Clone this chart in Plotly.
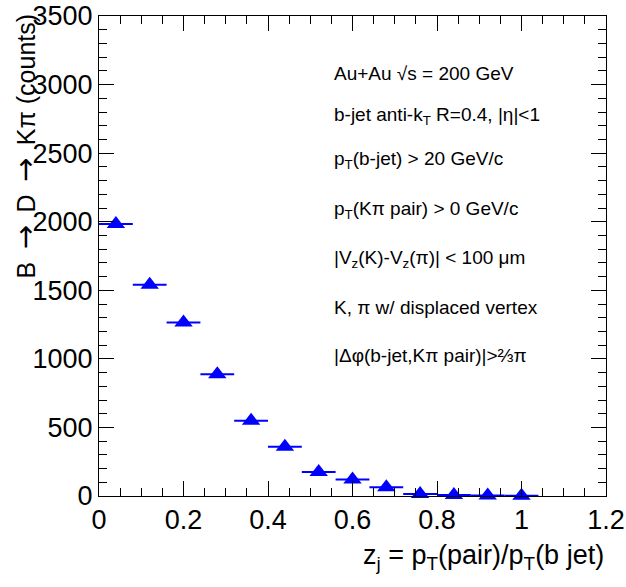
import plotly.graph_objects as go

# Data
zj_centers = [0.04, 0.12, 0.20, 0.28, 0.36, 0.44, 0.52, 0.60, 0.68, 0.76, 0.84, 0.92, 1.00]
zj_halfwidth = [0.04] * 13
counts = [1983, 1540, 1266, 887, 549, 359, 175, 121, 63, 15, 7, 3, 2]

x_ticks = [0, 0.2, 0.4, 0.6, 0.8, 1.0, 1.2]
x_ticklabels = ["0", "0.2", "0.4", "0.6", "0.8", "1", "1.2"]
y_ticks = [0, 500, 1000, 1500, 2000, 2500, 3000, 3500]
y_ticklabels = ["0", "500", "1000", "1500", "2000", "2500", "3000", "3500"]

info_lines = [
    "Au+Au √s = 200 GeV",
    "b-jet anti-k<sub>T</sub> R=0.4, |η|&lt;1",
    "p<sub>T</sub>(b-jet) &gt; 20 GeV/c",
    "p<sub>T</sub>(Kπ pair) &gt; 0 GeV/c",
    "|V<sub>z</sub>(K)-V<sub>z</sub>(π)| &lt; 100 μm",
    "K, π w/ displaced vertex",
    "|Δφ(b-jet,Kπ pair)|&gt;⅔π",
]
info_ypx = [73, 116, 160, 210, 259, 307, 356]

FONT = "Liberation Sans, Arial, Helvetica, sans-serif"
ARROW = "\u2002<span style='font-family:DejaVu Sans;font-size:29px'>→</span>\u2002"

fig = go.Figure()
fig.add_trace(go.Scatter(
    x=zj_centers, y=counts, mode="markers",
    marker=dict(symbol="triangle-up", size=16, color="#0000ff"),
    error_x=dict(type="data", array=zj_halfwidth, visible=True,
                 color="#0000ff", thickness=2, width=0),
    cliponaxis=False, showlegend=False,
))

L, R, T, B = 99, 20, 16, 91
W, H = 626, 587
ph = H - T - B

def py(px):
    return (H - B - px) / ph

for txt, ypx in zip(info_lines, info_ypx):
    fig.add_annotation(text=txt, xref="paper", yref="paper",
                       x=(332 - L) / (W - L - R), y=py(ypx),
                       xanchor="left", yanchor="middle", showarrow=False,
                       font=dict(family=FONT, size=19, color="black"))

# axis titles
fig.add_annotation(text="z<sub>j</sub> = p<sub>T</sub>(pair)/p<sub>T</sub>(b jet)",
                   xref="paper", yref="paper", x=1.0, y=py(557),
                   xanchor="right", yanchor="middle", showarrow=False,
                   font=dict(family=FONT, size=27, color="black"))
fig.add_annotation(text=f"B{ARROW}D{ARROW}Kπ (counts)",
                   xref="paper", yref="paper", x=(24 - L) / (W - L - R), y=py(12),
                   xanchor="center", yanchor="top", showarrow=False, textangle=-90,
                   font=dict(family=FONT, size=25, color="black"))

axis_common = dict(showline=True, linecolor="black", linewidth=1, mirror="allticks",
                   ticks="inside", ticklen=15, tickwidth=1, tickcolor="black",
                   showgrid=False, zeroline=False, automargin=False,
                   tickfont=dict(family=FONT, size=27, color="black"))

fig.update_xaxes(range=[0, 1.2], tickvals=x_ticks, ticktext=x_ticklabels,
                 minor=dict(dtick=0.05, ticks="inside", ticklen=8, tickcolor="black", showgrid=False),
                 **axis_common)
fig.update_yaxes(range=[0, 3500], tickvals=y_ticks, ticktext=y_ticklabels,
                 minor=dict(dtick=100, ticks="inside", ticklen=8, tickcolor="black", showgrid=False),
                 **axis_common)

fig.update_layout(width=W, height=H, margin=dict(l=L, r=R, t=T, b=B),
                  plot_bgcolor="white", paper_bgcolor="white",
                  font=dict(family=FONT, color="black"))

fig.write_html("out.html")
